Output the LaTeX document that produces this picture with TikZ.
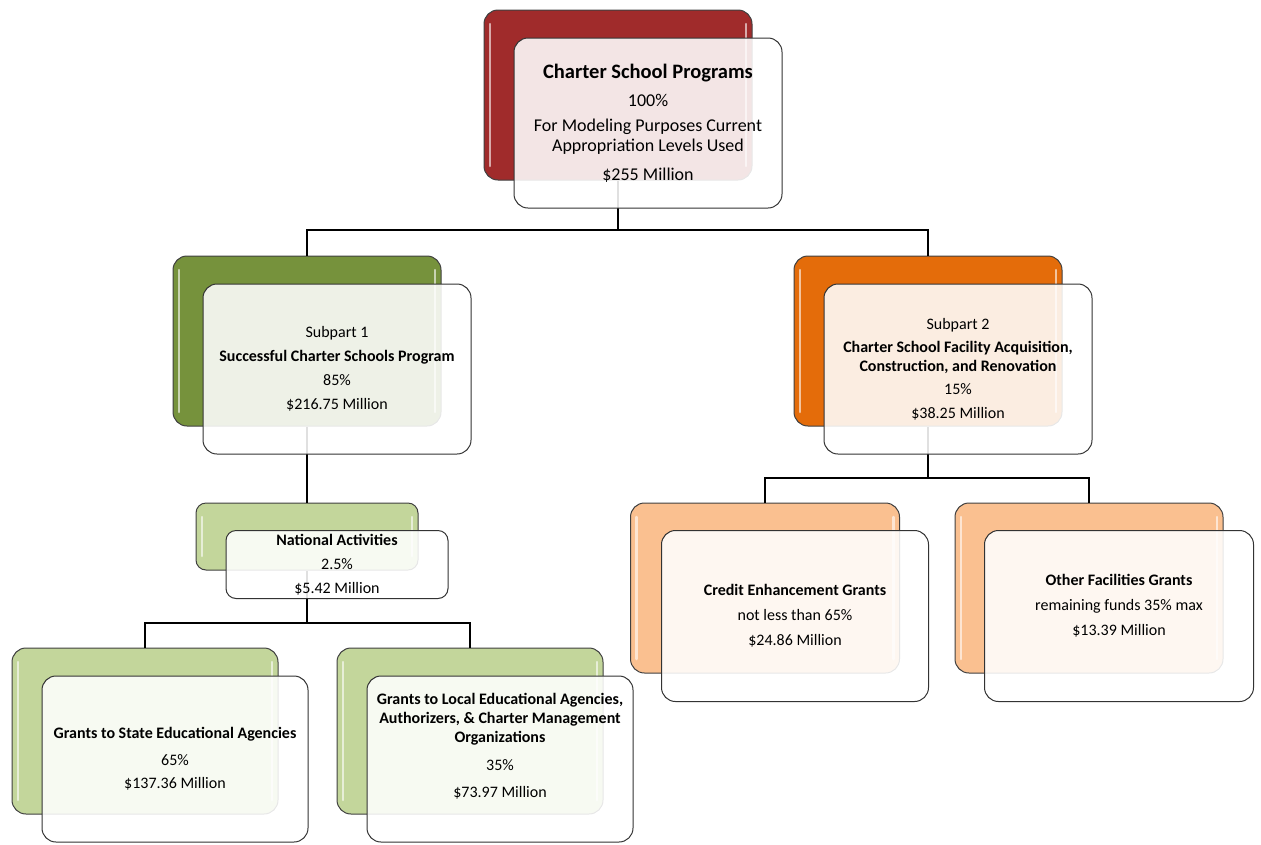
\documentclass[tikz,border=0pt]{standalone}
\usepackage{fontspec}
\setmainfont{Carlito}
\usetikzlibrary{positioning}
\definecolor{cspRed}{RGB}{160,43,43}
\definecolor{cspGreen}{RGB}{118,146,60}
\definecolor{cspOrange}{RGB}{228,108,10}
\definecolor{cspLightGreen}{RGB}{195,214,155}
\definecolor{cspLightOrange}{RGB}{250,192,144}

\begin{document}
\begin{tikzpicture}[x=1pt, y=-1pt,
    backbox/.style={draw=black!75, line width=1pt, rounded corners=14pt, inner sep=0pt,
      path picture={
        \draw[white, opacity=0.6, line width=2.5pt, line cap=round]
          ([shift={(6,14)}]path picture bounding box.north west) -- ([shift={(6,-14)}]path picture bounding box.south west)
          ([shift={(-6,14)}]path picture bounding box.north east) -- ([shift={(-6,-14)}]path picture bounding box.south east);
      }},
    frontbox/.style={draw=black!80, line width=1pt, fill=white, fill opacity=0.88, text opacity=1,
      rounded corners=14pt, align=center, inner sep=2pt, font=\fontsize{16}{19}\selectfont},
    link/.style={draw=black, line width=1.1pt}]
  \useasboundingbox (0,0) rectangle (1261,844);

  % back boxes
  \node[backbox, fill=cspRed, minimum width=268pt, minimum height=170pt] (topback) at (618,95) {};
  \node[backbox, fill=cspGreen, minimum width=268pt, minimum height=170pt] (oneback) at (307,341) {};
  \node[backbox, fill=cspOrange, minimum width=268pt, minimum height=170pt] (twoback) at (928,341) {};
  \node[backbox, fill=cspLightGreen, minimum width=222pt, minimum height=67pt, rounded corners=10pt] (natback) at (307,536.5) {};
  \node[backbox, fill=cspLightGreen, minimum width=266pt, minimum height=166pt] (stateback) at (145,731) {};
  \node[backbox, fill=cspLightGreen, minimum width=266pt, minimum height=166pt] (localback) at (470,731) {};
  \node[backbox, fill=cspLightOrange, minimum width=269pt, minimum height=170pt] (creditback) at (765,588) {};
  \node[backbox, fill=cspLightOrange, minimum width=268pt, minimum height=170pt] (otherback) at (1089,588) {};

  % connectors
  \coordinate (topsplit) at (618,230);
  \coordinate (natsplit) at (307,623);
  \coordinate (twosplit) at (928,478);
  \draw[link] (topback.south) -- (topsplit);
  \draw[link] (topsplit) -| (oneback.north);
  \draw[link] (topsplit) -| (twoback.north);
  \draw[link] (oneback.south) -- (natback.north);
  \draw[link] (natback.south) -- (natsplit);
  \draw[link] (natsplit) -| (stateback.north);
  \draw[link] (natsplit) -| (localback.north);
  \draw[link] (twoback.south) -- (twosplit);
  \draw[link] (twosplit) -| (creditback.north);
  \draw[link] (twosplit) -| (otherback.north);

  % front boxes
  \node[frontbox, minimum width=268pt, minimum height=170pt, font=\fontsize{18}{20}\selectfont] (topfront)
    at ([shift={(30,28)}]topback.center)
    {{\bfseries\fontsize{20.5}{24}\selectfont Charter School Programs}\\[8pt]100\%\\[5pt]
     For Modeling Purposes Current\\Appropriation Levels Used\\[9pt]\$255 Million};
  \node[frontbox, minimum width=268pt, minimum height=170pt] (onefront)
    at ([shift={(30,28)}]oneback.center)
    {Subpart 1\\[5pt]\textbf{Successful Charter Schools Program}\\[5pt]85\%\\[5pt]\$216.75 Million};
  \node[frontbox, minimum width=268pt, minimum height=170pt] (twofront)
    at ([shift={(30,28)}]twoback.center)
    {Subpart 2\\[4pt]\textbf{Charter School Facility Acquisition,}\\\textbf{Construction, and Renovation}\\[4pt]
     15\%\\[5pt]\$38.25 Million};
  \node[frontbox, minimum width=222pt, minimum height=68pt, rounded corners=10pt] (natfront)
    at ([shift={(30,28)}]natback.center)
    {\textbf{National Activities}\\[5pt]2.5\%\\[5pt]\$5.42 Million};
  \node[frontbox, minimum width=266pt, minimum height=166pt] (statefront)
    at ([shift={(30,28)}]stateback.center)
    {\textbf{Grants to State Educational Agencies}\\[8pt]65\%\\[4pt]\$137.36 Million};
  \node[frontbox, minimum width=266pt, minimum height=166pt] (localfront)
    at ([shift={(30,28)}]localback.center)
    {\textbf{Grants to Local Educational Agencies,}\\\textbf{Authorizers, \& Charter Management}\\
     \textbf{Organizations}\\[9pt]35\%\\[8pt]\$73.97 Million\\[2pt]\strut};
  \node[frontbox, minimum width=267pt, minimum height=171pt] (creditfront)
    at ([shift={(30,28)}]creditback.center)
    {\textbf{Credit Enhancement Grants}\\[6pt]not less than 65\%\\[6pt]\$24.86 Million};
  \node[frontbox, minimum width=269pt, minimum height=171pt] (otherfront)
    at ([shift={(30,28)}]otherback.center)
    {\textbf{Other Facilities Grants}\\[6pt]remaining funds 35\% max\\[6pt]\$13.39 Million\\[-3pt]\strut};
\end{tikzpicture}
\end{document}
